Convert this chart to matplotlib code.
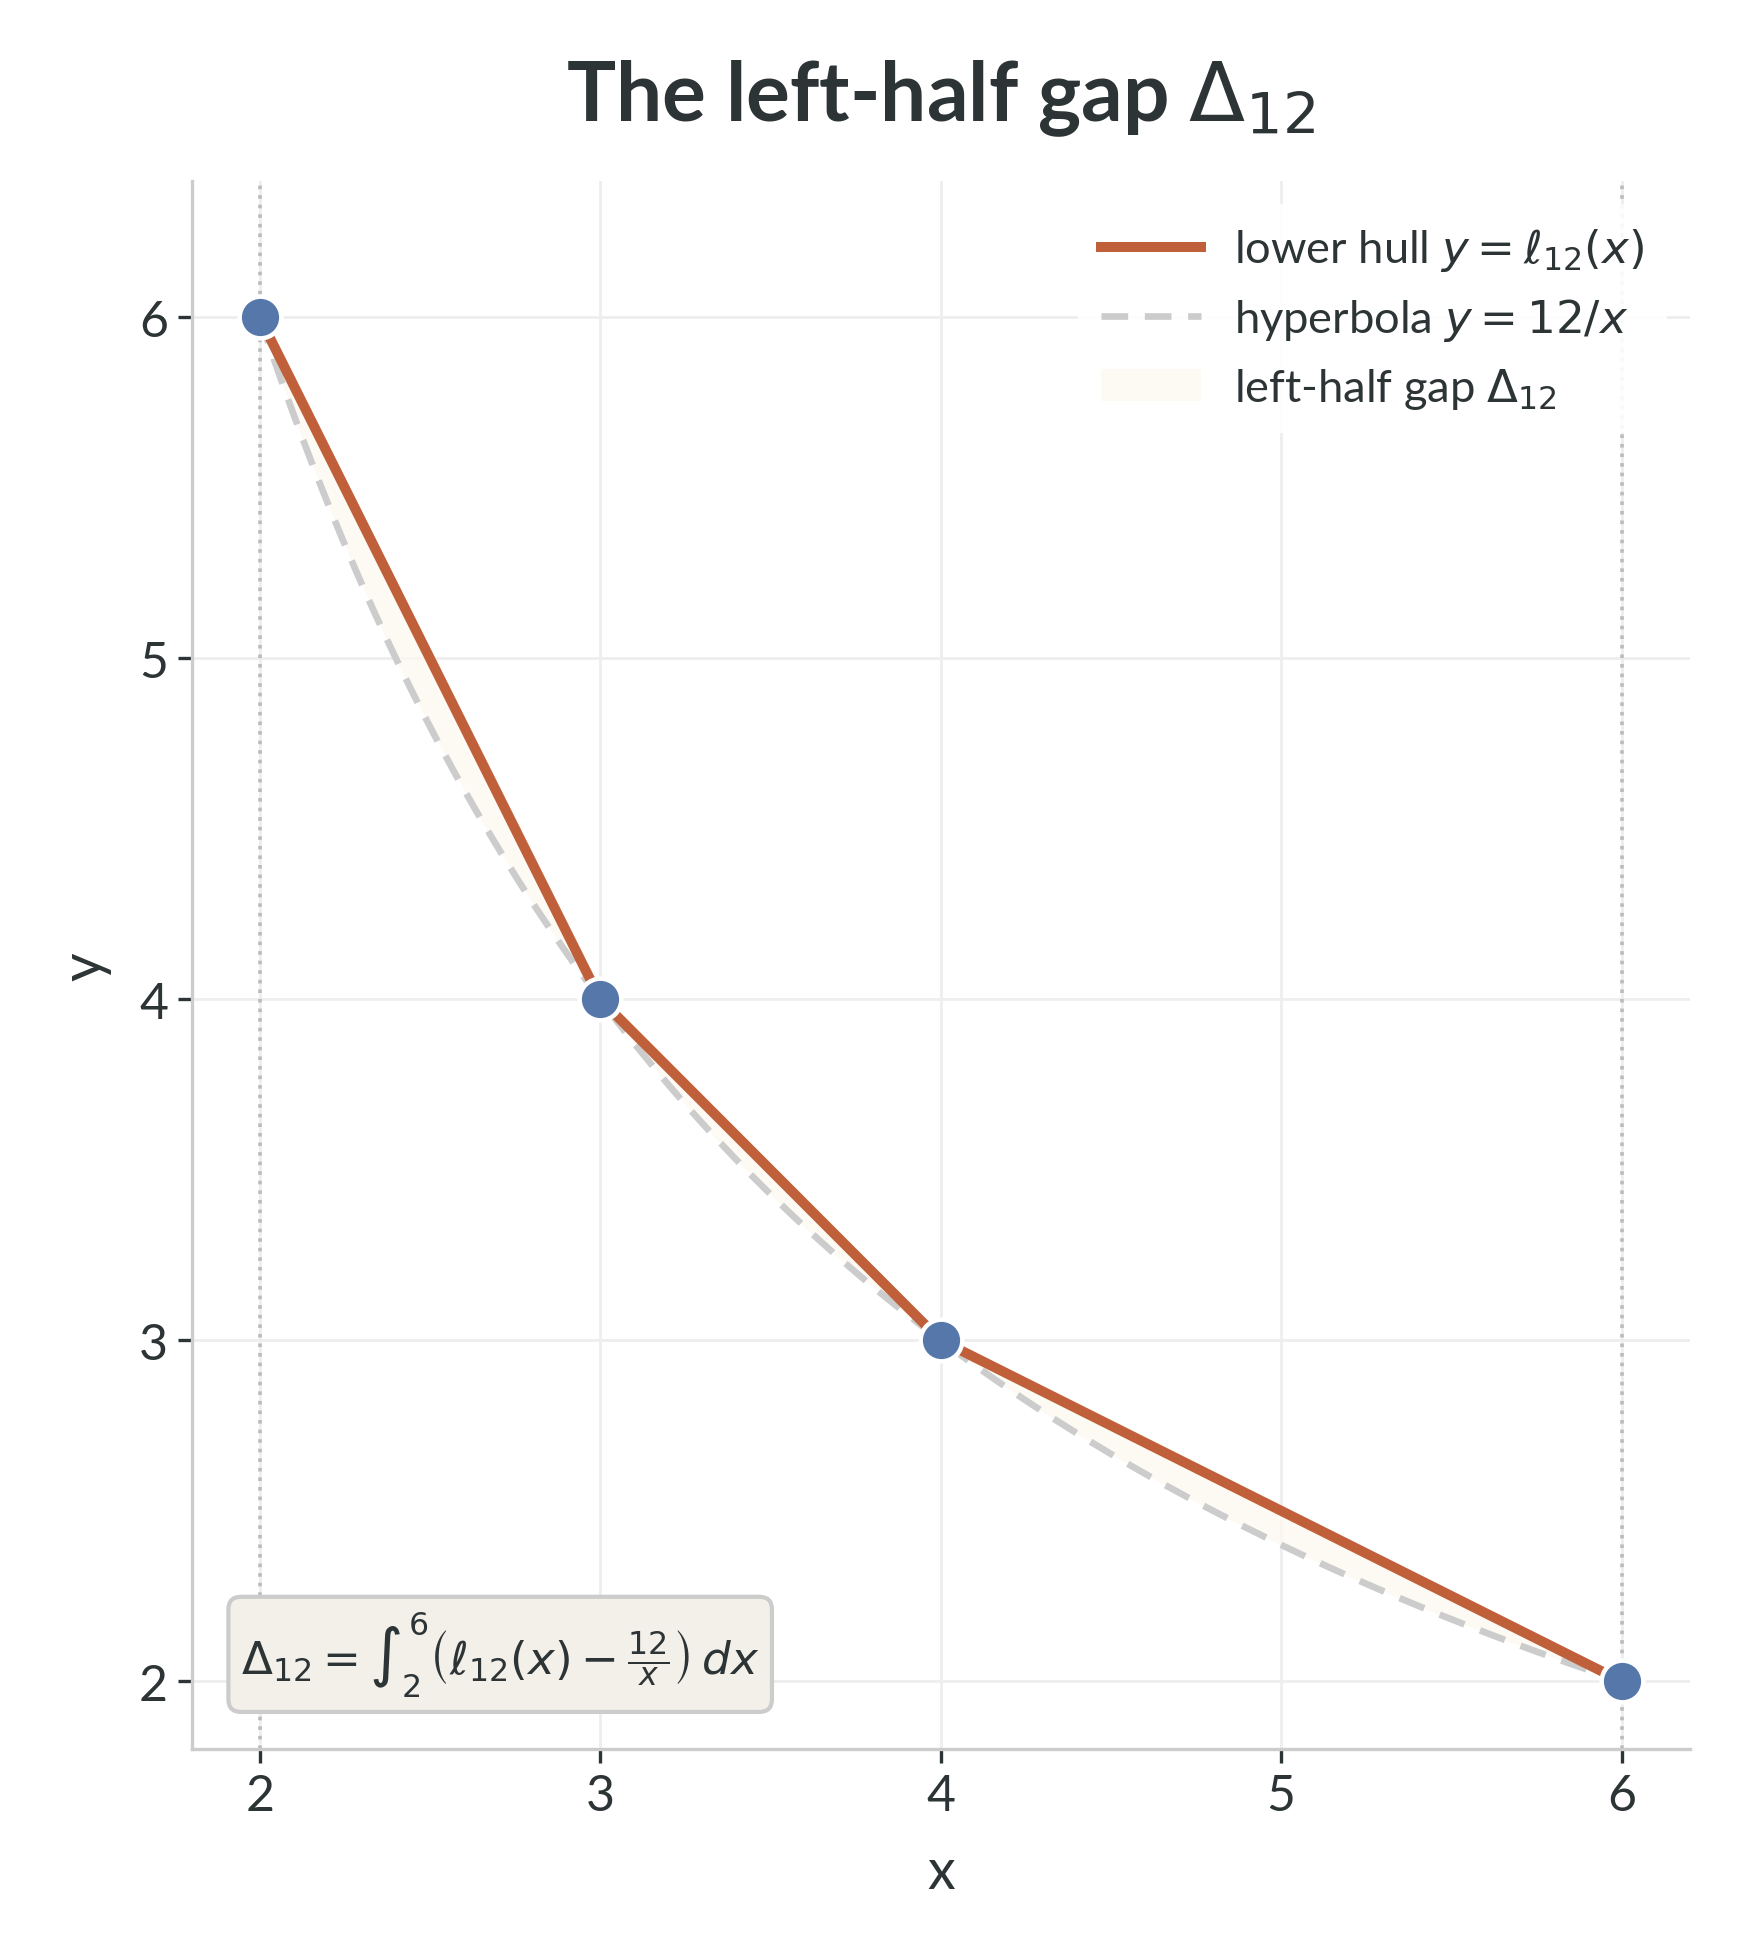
import numpy as np
import matplotlib
matplotlib.use('Agg')
import matplotlib.pyplot as plt

# hull vertices and the hyperbola 12/x
hull_x = [2, 3, 4, 6]
hull_y = [6, 4, 3, 2]
x_ticks = [2, 3, 4, 5, 6]
y_ticks = [2, 3, 4, 5, 6]

plt.rcParams['font.family'] = ['Lato', 'DejaVu Sans']

text_col = '#2d3436'
hull_col = '#c0603a'
dot_col = '#5577aa'

fig = plt.figure(figsize=(8.71, 9.79), dpi=200)
ax = fig.add_axes([0.110, 0.106, 0.860, 0.801])

xs = np.linspace(2, 6, 400)
hyp = 12 / xs
hull_interp = np.interp(xs, hull_x, hull_y)

ax.axvline(2, color='#bbbbbb', ls=':', lw=1.3, zorder=1)
ax.axvline(6, color='#bbbbbb', ls=':', lw=1.3, zorder=1)

ax.fill_between(xs, hyp, hull_interp, color='#fdf8f0', alpha=0.8, lw=0,
                label=r'left-half gap $\Delta_{12}$', zorder=2)
ax.plot(xs, hyp, color='#cccccc', ls='--', lw=2.4, dashes=(4, 2.5),
        label=r'hyperbola $y = 12/x$', zorder=3)
ax.plot(hull_x, hull_y, color=hull_col, lw=3.6,
        label=r'lower hull $y = \ell_{12}(x)$', zorder=4)
ax.plot(hull_x, hull_y, 'o', color=dot_col, ms=15, mec='white', mew=1.6, zorder=5)

ax.set_xlim(1.8, 6.2)
ax.set_ylim(1.8, 6.4)
ax.set_xticks(x_ticks)
ax.set_yticks(y_ticks)
ax.grid(True, color='#eeeeee', lw=1.0)
ax.set_axisbelow(True)
for s in ['top', 'right']:
    ax.spines[s].set_visible(False)
for s in ['left', 'bottom']:
    ax.spines[s].set_color('#cccccc')
    ax.spines[s].set_linewidth(1.2)
ax.tick_params(colors=text_col, labelsize=18, length=5, width=1.2)

ax.set_xlabel('x', fontsize=20, color=text_col, labelpad=10)
ax.set_ylabel('y', fontsize=20, color=text_col, labelpad=10)
ax.set_title(r'The left-half gap $\Delta_{12}$', fontsize=29.5, fontweight='bold',
             color=text_col, pad=22)

handles, labels = ax.get_legend_handles_labels()
order = [2, 1, 0]
leg = ax.legend([handles[i] for i in order], [labels[i] for i in order],
                loc='upper right', fontsize=16.3, frameon=True, framealpha=0.9,
                edgecolor='none', facecolor='white', handlelength=2.2,
                handletextpad=0.75, borderpad=0.5, labelspacing=0.5)
for t in leg.get_texts():
    t.set_color(text_col)

ax.text(0.033, 0.032,
        r'$\Delta_{12} = \int_2^6 \left(\ell_{12}(x) - \frac{12}{x}\right)\,dx$',
        transform=ax.transAxes, fontsize=16.3, color=text_col, va='bottom', ha='left',
        bbox=dict(boxstyle='round,pad=0.28', facecolor='#f3f0ea',
                  edgecolor='#cccccc', lw=1.5))

fig.savefig('out.png', dpi=200)
